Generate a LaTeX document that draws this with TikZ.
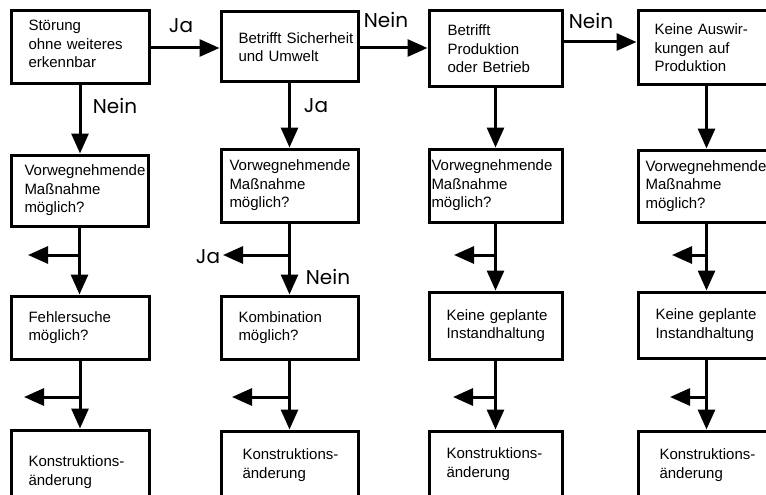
\documentclass[tikz,border=0pt]{standalone}
\usepackage{fontspec}
\setmainfont{Liberation Sans}
\newfontfamily\lblfont{Poppins}
\usetikzlibrary{arrows.meta,calc}
\hyphenpenalty=10000
\exhyphenpenalty=10000
\begin{document}
\begin{tikzpicture}[x=1pt,y=-1pt,
  box/.style={draw, line width=3pt, rectangle, align=left, anchor=north west,
    inner ysep=0pt, font=\fontsize{15}{18.5}\selectfont},
  endbox/.style={box, text height=12pt, text depth=60pt, minimum height=0pt},
  arr/.style={line width=3pt, -{Triangle[length=20pt,width=17pt]}},
  lbl/.style={font=\lblfont\fontsize{20}{20}\selectfont, inner sep=0pt}]
\useasboundingbox (0,0) rectangle (766,495);
\fill[white] (0,0) rectangle (766,495);
\clip (0,0) rectangle (766,495);

% row 1
\node[box, text width=103pt, inner xsep=17.5pt, inner ysep=8pt, text height=12pt, text depth=45pt, minimum height=0pt] (a1) at (9.5,9.5) {Störung\\ohne~weiteres\\erkennbar};
\node[box, text width=102pt, inner xsep=17.5pt, minimum height=70pt] (a2) at (219.5,10.5) {Betrifft~Sicherheit\\und~Umwelt};
\node[box, text width=96pt, inner xsep=18.5pt, minimum height=76pt] (a3) at (427.5,9.5) {Betrifft\\Produktion\\oder~Betrieb};
\node[box, text width=104pt, inner xsep=16.5pt, minimum height=74pt] (a4) at (636.5,9.5) {Keine~Auswir-\\kungen~auf\\Produktion};

% row 2
\node[box, text width=110pt, inner xsep=13.5pt, minimum height=71pt] (b1) at (9.5,153.5) {Vorwegnehmende\\Maßnahme\\möglich?};
\node[box, text width=120pt, inner xsep=8.5pt, minimum height=73pt] (b2) at (219.5,147.5) {Vorwegnehmende\\Maßnahme\\möglich?};
\node[box, text width=128pt, inner xsep=2.5pt, minimum height=73pt] (b3) at (427.5,147.5) {Vorwegnehmende\\Maßnahme\\möglich?};
\node[box, text width=122pt, inner xsep=7.5pt, minimum height=72pt] (b4) at (636.5,148.5) {Vorwegnehmende\\Maßnahme\\möglich?};

% row 3
\node[box, text width=103pt, inner xsep=17.5pt, minimum height=63pt] (c1) at (9.5,294.5) {Fehlersuche\\möglich?};
\node[box, text width=102pt, inner xsep=17.5pt, minimum height=63pt] (c2) at (219.5,294.5) {Kombination\\möglich?};
\node[box, text width=98pt, inner xsep=17.5pt, minimum height=67pt] (c3) at (427.5,290.5) {Keine~geplante\\Instandhaltung};
\node[box, text width=102pt, inner xsep=17.5pt, minimum height=66pt] (c4) at (636.5,290.5) {Keine~geplante\\Instandhaltung};

% row 4
\node[endbox, text width=103pt, inner xsep=17.5pt, inner ysep=24.5pt] (d1) at (9.5,428.5) {Konstruktions-\\änderung};
\node[endbox, text width=94pt, inner xsep=21.5pt, inner ysep=16.5pt] (d2) at (219.5,429.5) {Konstruktions-\\änderung};
\node[endbox, text width=98pt, inner xsep=17.5pt, inner ysep=15.5pt] (d3) at (427.5,429.5) {Konstruktions-\\änderung};
\node[endbox, text width=94pt, inner xsep=21.5pt, inner ysep=16.5pt] (d4) at (636.5,429.5) {Konstruktions-\\änderung};

% helper coordinates
\coordinate (ya) at (0,48);
\coordinate (yb) at (0,42);
\coordinate (y2) at (0,255);
\coordinate (y3) at (0,397);
\coordinate (e21) at (28,255);
\coordinate (e22) at (223,255);
\coordinate (e23) at (454,255);
\coordinate (e24) at (672,255);
\coordinate (e31) at (24,397);
\coordinate (e32) at (232,397);
\coordinate (e33) at (453,397);
\coordinate (e34) at (670,397);

% top row connectors
\draw[arr] (a1.east |- ya) -- (a2.west |- ya);
\draw[arr] (a2.east |- ya) -- (a3.west |- ya);
\draw[arr] (a3.east |- yb) -- (a4.west |- yb);

% vertical connectors
\foreach \c in {1,2,3,4}{
  \draw[arr] (a\c.south) -- (a\c.south |- b\c.north);
  \draw[arr] (b\c.south) -- (b\c.south |- c\c.north);
  \draw[arr] (c\c.south) -- (c\c.south |- d\c.north);
  \draw[arr] (b\c.south |- y2) -- (e2\c);
  \draw[arr] (c\c.south |- y3) -- (e3\c);
}

% labels
\node[lbl] (l1) at (181,26) {Ja};
\node[lbl] (l2) at (386,20) {Nein};
\node[lbl] (l3) at (591,21) {Nein};
\node[lbl] (l4) at (115,106) {Nein};
\node[lbl] (l5) at (316,106) {Ja};
\node[lbl] (l6) at (208,257) {Ja};
\node[lbl] (l7) at (328,277) {Nein};
\end{tikzpicture}
\end{document}
